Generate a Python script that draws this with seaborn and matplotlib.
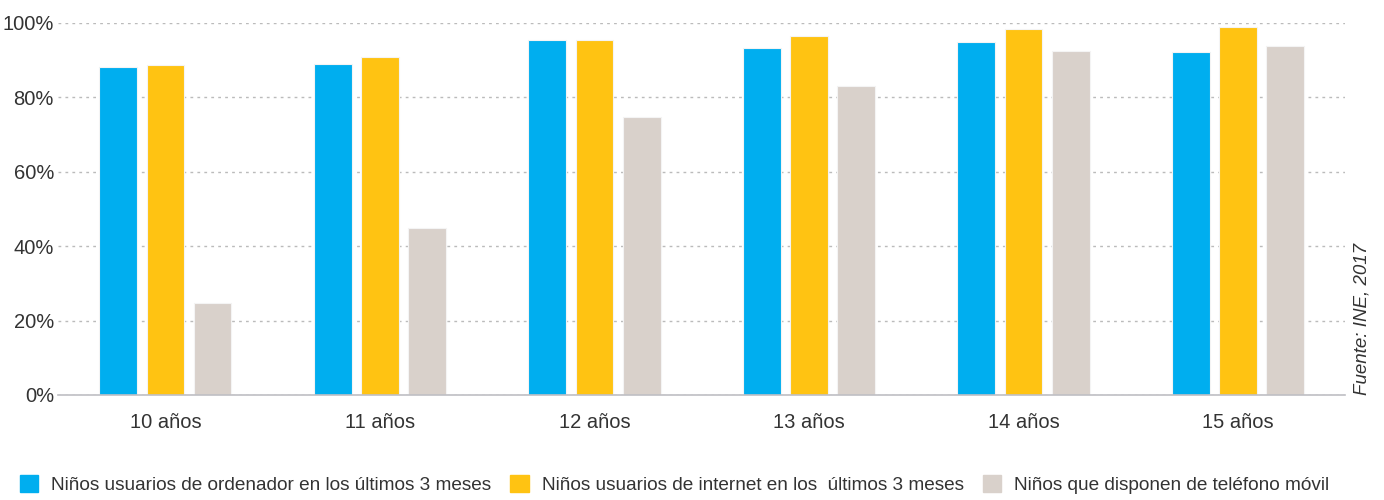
import numpy as np
import pandas as pd
import seaborn as sns
import matplotlib.pyplot as plt

edades = ["10 años", "11 años", "12 años", "13 años", "14 años", "15 años"]
ordenador = [88.2, 89.0, 95.4, 93.3, 94.9, 92.2]
internet = [88.7, 90.9, 95.4, 96.5, 98.4, 98.9]
movil = [24.7, 44.9, 74.7, 83.1, 92.5, 93.8]

series = ["Niños usuarios de ordenador en los últimos 3 meses",
          "Niños usuarios de internet en los  últimos 3 meses",
          "Niños que disponen de teléfono móvil"]
colores = ["#00AEEF", "#FFC312", "#D9D1CB"]

data = pd.DataFrame({
    "edad": edades * 3,
    "valor": ordenador + internet + movil,
    "serie": [series[0]] * 6 + [series[1]] * 6 + [series[2]] * 6,
})

sns.set_style("white")
plt.rcParams['font.family'] = ['Liberation Sans', 'DejaVu Sans']

fig = plt.figure(figsize=(13.84, 5), dpi=100)
ax = fig.add_axes([0.042, 0.21, 0.93, 0.744])

sns.barplot(data=data, x="edad", y="valor", hue="serie", palette=colores,
            saturation=1, width=0.66, gap=0.2, ax=ax, legend=False,
            edgecolor="#f4f4f4", linewidth=0.8)

ax.set_xlim(-0.5, 5.5)
ax.set_ylim(0, 100)
ax.set_yticks([0, 20, 40, 60, 80, 100])
ax.set_yticklabels(["0%", "20%", "40%", "60%", "80%", "100%"])
ax.yaxis.grid(True, linestyle=(0, (2, 3)), color="#bbbbbb", linewidth=1)
ax.set_axisbelow(True)
ax.set_xlabel("")
ax.set_ylabel("")
for s in ["top", "right", "left"]:
    ax.spines[s].set_visible(False)
ax.spines["bottom"].set_color("#bfbfc4")
ax.spines["bottom"].set_linewidth(1.2)
ax.tick_params(axis="both", length=0, labelsize=14.5, colors="#333333")
ax.tick_params(axis="x", pad=13)
ax.tick_params(axis="y", pad=3)

fig.text(0.984, 0.21, "Fuente: INE, 2017", rotation=90, ha="center", va="bottom",
         fontsize=13.5, style="italic", color="#333333")

handles = [plt.Rectangle((0, 0), 1, 1, color=c) for c in colores]
fig.legend(handles, series, loc="lower left", bbox_to_anchor=(0.002, -0.022), ncol=3,
           frameon=False, handlelength=0.95, handleheight=0.95,
           handletextpad=0.7, columnspacing=1.0,
           prop={"family": ["Liberation Sans", "DejaVu Sans"], "size": 13.7})
for t in fig.legends[0].get_texts():
    t.set_color("#333333")

fig.savefig("out.png", dpi=100)
